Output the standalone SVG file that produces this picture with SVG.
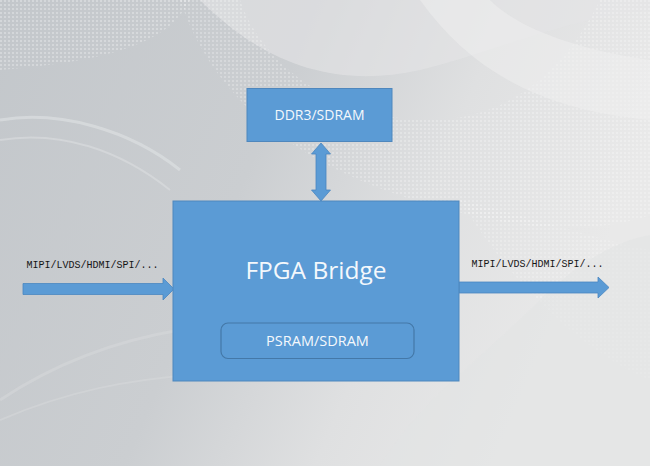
<svg xmlns="http://www.w3.org/2000/svg" width="650" height="466" viewBox="0 0 650 466">
<defs>
<linearGradient id="bg" x1="0" y1="0" x2="1" y2="0.3">
<stop offset="0" stop-color="#c3c7cb"/>
<stop offset="0.45" stop-color="#cbced1"/>
<stop offset="0.72" stop-color="#dfe0e1"/>
<stop offset="1" stop-color="#e9e9e9"/>
</linearGradient>
<pattern id="mesh" width="4" height="4" patternUnits="userSpaceOnUse">
<rect width="4" height="4" fill="none"/>
<rect width="2" height="2" fill="#ffffff" opacity="0.35"/>
</pattern>
<style>
.blk{fill:#5b9bd5;stroke:#4f87bd;stroke-width:1}
.arr{fill:#5b9bd5;stroke:#4a86c0;stroke-width:0.8}
.lbl{font-family:"Open Sans","Noto Sans",sans-serif;fill:#f4f8fc;text-anchor:middle}
.io{font-family:"Liberation Mono","DejaVu Sans Mono",monospace;font-size:10px;fill:#151515}
</style>
</defs>
<g id="background">
<rect width="650" height="466" fill="url(#bg)"/>
<path d="M0,0 H190 C170,40 120,60 0,70 Z" fill="url(#mesh)" opacity="0.8"/>
<path d="M200,0 C260,60 330,90 420,70 C500,50 560,20 650,10 V0 Z" fill="#e4e5e6" opacity="0.6"/>
<path d="M180,0 C220,120 330,180 450,210 C540,235 610,230 650,215 V0 H600 C560,80 500,120 430,120 C330,120 260,60 240,0 Z" fill="url(#mesh)" opacity="0.7"/>
<path d="M420,0 C470,70 540,110 650,120 V60 C580,50 520,30 490,0 Z" fill="#f0f0f0" opacity="0.5"/>
<path d="M460,200 C520,300 600,360 650,380 V250 C600,240 540,220 460,200 Z" fill="url(#mesh)" opacity="0.6"/>
<path d="M380,466 C420,400 480,360 540,300 C580,260 620,240 650,235 V466 Z" fill="#e2e3e4" opacity="0.55"/>
<path d="M0,120 C60,110 130,130 180,170" stroke="#e0e2e4" stroke-width="3" fill="none" opacity="0.6"/>
<path d="M0,140 C60,130 120,150 170,190" stroke="#e0e2e4" stroke-width="2" fill="none" opacity="0.5"/>
<path d="M0,400 C60,360 120,340 180,330" stroke="#d8dadc" stroke-width="3" fill="none" opacity="0.5"/>
<path d="M0,420 C70,390 130,380 190,375" stroke="#d8dadc" stroke-width="2" fill="none" opacity="0.5"/>
</g>
<g id="connectors">
<polygon id="arrow-in" class="arr" points="23,283.5 163,283.5 163,278 174,289 163,300 163,294.5 23,294.5"/>
<polygon id="arrow-out" class="arr" points="459,282 598,282 598,277 609,287.5 598,298 598,293 459,293"/>
<polygon id="arrow-ddr" class="arr" points="321,143 330.5,154 326,154 326,190 330.5,190 321,201 311.5,190 316,190 316,154 311.5,154"/>
</g>
<g id="node-ddr3">
<rect class="blk" x="247" y="88.5" width="145" height="53"/>
<text class="lbl" x="319.5" y="120" font-size="14">DDR3/SDRAM</text>
</g>
<g id="node-fpga">
<rect class="blk" x="173" y="201" width="286" height="180"/>
<text class="lbl" x="316" y="278.5" font-size="24.5">FPGA Bridge</text>
</g>
<g id="node-psram">
<rect x="221" y="323" width="193" height="35.5" rx="7" fill="#5b9bd5" stroke="#4478a8" stroke-width="1.2"/>
<text class="lbl" x="317.5" y="346" font-size="14.5">PSRAM/SDRAM</text>
</g>
<g id="labels">
<text class="io" x="26.5" y="268">MIPI/LVDS/HDMI/SPI/...</text>
<text class="io" x="471.5" y="266.5">MIPI/LVDS/HDMI/SPI/...</text>
</g>
</svg>
